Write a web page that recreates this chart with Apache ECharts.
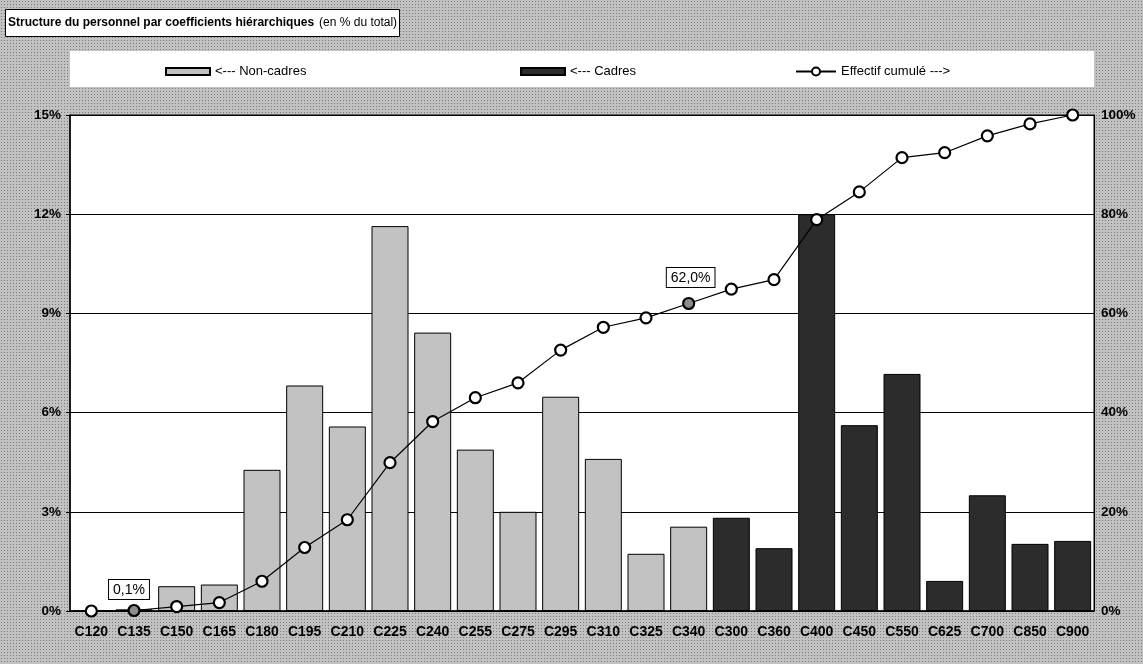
<!DOCTYPE html>
<html><head><meta charset="utf-8">
<script src="https://cdn.jsdelivr.net/npm/echarts@6/dist/echarts.min.js"></script>
<style>
html,body{margin:0;padding:0;}
body{width:1143px;height:664px;background-color:#c2c2c2;
background-image:radial-gradient(circle,#7a7a7a 0.8px,transparent 1px);background-size:3px 3px;}
#c{width:1143px;height:664px;}
</style></head>
<body><div id="c"></div>
<script>
const categories = ['C120','C135','C150','C165','C180','C195','C210','C225','C240','C255','C275','C295','C310','C325','C340','C300','C360','C400','C450','C550','C625','C700','C850','C900'];
const nonCadres = [0, 0.05, 0.75, 0.8, 4.27, 6.82, 5.58, 11.64, 8.42, 4.88, 3.0, 6.48, 4.6, 1.73, 2.55, null, null, null, null, null, null, null, null, null];
const cadres = [null, null, null, null, null, null, null, null, null, null, null, null, null, null, null, 2.82, 1.9, 12.0, 5.62, 7.17, 0.91, 3.5, 2.03, 2.12];
const cumul = [0, 0.1, 0.9, 1.7, 6.0, 12.8, 18.4, 29.9, 38.2, 43.0, 46.0, 52.6, 57.2, 59.1, 62.0, 64.9, 66.8, 78.9, 84.5, 91.4, 92.4, 95.8, 98.2, 100];
const labelledPoints = [1, 14];
const leftTicks = [0, 3, 6, 9, 12, 15];
const rightTicks = [0, 20, 40, 60, 80, 100];

const FONT = "'Liberation Sans', Arial, sans-serif";
const fmt = v => v.toFixed(1).replace('.', ',') + '%';

const lineData = cumul.map((v, i) => {
  if (labelledPoints.includes(i)) {
    return {
      value: v,
      itemStyle: {color: '#8c8c8c'},
      label: {
        show: true, position: 'top', distance: i === 1 ? 5 : 10,
        offset: i === 1 ? [-5, 0] : [2, 0],
        formatter: p => fmt(p.value),
        backgroundColor: '#fff', borderColor: '#000', borderWidth: 1,
        padding: [3, 4, 2, 4], fontSize: 14, color: '#000', fontFamily: FONT
      }
    };
  }
  return v;
});

const chart = echarts.init(document.getElementById('c'), null, {renderer: 'canvas'});
chart.setOption({
  backgroundColor: 'transparent',
  animation: false,
  textStyle: {fontFamily: FONT},
  title: {
    left: 5, top: 9,
    text: '{b|Structure du personnel par coefficients hiérarchiques} {n|(en % du total)}',
    backgroundColor: '#fff', borderColor: '#000', borderWidth: 1,
    padding: [5, 3, 5, 3],
    textStyle: {
      rich: {
        b: {fontWeight: 'bold', fontSize: 12, color: '#000', fontFamily: FONT},
        n: {fontWeight: 'normal', fontSize: 12, color: '#000', fontFamily: FONT}
      }
    }
  },
  graphic: [{
    type: 'rect', shape: {x: 70, y: 51, width: 1024, height: 36},
    style: {fill: '#fff'}, z: -1, silent: true
  }],
  legend: [
    {data: [{name: '<--- Non-cadres', icon: 'rect'}], left: 160, top: 60, itemWidth: 44, itemHeight: 7, itemGap: 5,
     textStyle: {fontSize: 13, color: '#000', fontFamily: FONT}},
    {data: [{name: '<--- Cadres', icon: 'rect'}], left: 515, top: 60, itemWidth: 44, itemHeight: 7,
     textStyle: {fontSize: 13, color: '#000', fontFamily: FONT}},
    {data: ['Effectif cumulé --->'], left: 790, top: 60, itemWidth: 40, itemHeight: 10,
     textStyle: {fontSize: 13, color: '#000', fontFamily: FONT}}
  ],
  grid: {left: 70, right: 49, top: 115, bottom: 53, show: true, backgroundColor: '#fff', borderColor: '#000', borderWidth: 1},
  xAxis: {
    type: 'category', data: categories, boundaryGap: true,
    axisLine: {lineStyle: {color: '#000', width: 1.5}},
    axisTick: {show: false},
    axisLabel: {interval: 0, fontSize: 14, fontWeight: 'bold', color: '#000', margin: 14, fontFamily: FONT}
  },
  yAxis: [
    {type: 'value', min: 0, max: 15, interval: 3,
     axisLine: {show: true, lineStyle: {color: '#000', width: 1.5}},
     axisTick: {show: true, length: 4, lineStyle: {color: '#000'}},
     splitLine: {show: true, lineStyle: {color: '#000', width: 1}},
     axisLabel: {formatter: '{value}%', fontSize: 13.5, fontWeight: 'bold', color: '#000', margin: 9, fontFamily: FONT}},
    {type: 'value', min: 0, max: 100, interval: 20, position: 'right',
     axisLine: {show: true, lineStyle: {color: '#000', width: 1}},
     axisTick: {show: false},
     splitLine: {show: false},
     axisLabel: {formatter: '{value}%', fontSize: 13.5, fontWeight: 'bold', color: '#000', margin: 7, fontFamily: FONT}}
  ],
  series: [
    {name: '<--- Non-cadres', type: 'bar', data: nonCadres, barWidth: 37, barGap: '-100%',
     itemStyle: {color: '#c2c2c2', borderColor: '#000', borderWidth: 1}},
    {name: '<--- Cadres', type: 'bar', data: cadres, barWidth: 37, barGap: '-100%',
     itemStyle: {color: '#2c2c2c', borderColor: '#000', borderWidth: 1}},
    {name: 'Effectif cumulé --->', type: 'line', yAxisIndex: 1, data: lineData,
     symbol: 'circle', symbolSize: 11, z: 5,
     lineStyle: {color: '#000', width: 1.2},
     itemStyle: {color: '#fff', borderColor: '#000', borderWidth: 2.2}}
  ]
});
</script></body></html>
